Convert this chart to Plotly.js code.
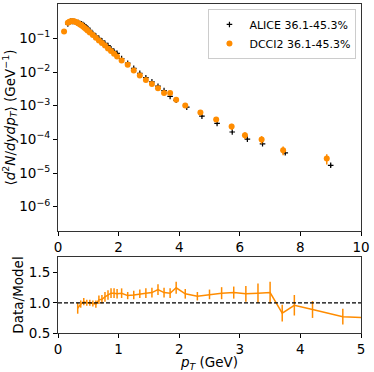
<!DOCTYPE html>
<html>
<head>
<meta charset="utf-8">
<script src="https://cdn.plot.ly/plotly-3.0.1.min.js"></script>
<style>
html, body { margin: 0; padding: 0; background: #fff; }
#plot { width: 374px; height: 372px; }
</style>
</head>
<body>
<div id="plot"></div>
<script>
// ALICE spectrum (black crosses)
const alicePt = [0.325, 0.375, 0.425, 0.475, 0.525, 0.575, 0.625, 0.675, 0.725, 0.775,
  0.825, 0.875, 0.925, 0.975, 1.05, 1.15, 1.25, 1.35, 1.45, 1.55, 1.65, 1.75, 1.85, 1.95,
  2.1, 2.3, 2.5, 2.7, 2.9, 3.1, 3.3, 3.5, 3.7, 3.9, 4.25, 4.75, 5.25, 5.75, 6.25, 6.75, 7.5, 9.0]
const aliceY = [0.27, 0.30, 0.325, 0.32, 0.32, 0.305, 0.29, 0.295, 0.275, 0.27,
  0.255, 0.24, 0.22, 0.198, 0.174, 0.14, 0.118, 0.1, 0.085, 0.071, 0.061, 0.049, 0.041, 0.036,
  0.025, 0.0183, 0.0128, 0.0092, 0.0068, 0.0051, 0.0038, 0.0028, 0.0019, 0.00145, 0.00091,
  0.00049, 0.00030, 0.000166, 0.000102, 7.4e-5, 4.0e-5, 1.7e-5]
const aliceErr = [0.01, 0.01, 0.01, 0.01, 0.01, 0.01, 0.01, 0.01, 0.01, 0.01,
  0.01, 0.01, 0.01, 0.008, 0.007, 0.006, 0.005, 0.004, 0.004, 0.003, 0.003, 0.002, 0.002, 0.002,
  0.0012, 0.0009, 0.0006, 0.0005, 0.0004, 0.0003, 0.0002, 0.00015, 0.0001, 0.00008, 0.00005,
  0.00003, 0.00002, 0.000012, 0.000008, 6e-6, 4e-6, 2e-6]

// DCCI2 model spectrum (orange dots)
const modelPt = [0.2, 0.325, 0.375, 0.425, 0.475, 0.525, 0.575, 0.625, 0.675, 0.725, 0.775,
  0.825, 0.875, 0.925, 0.975, 1.05, 1.15, 1.25, 1.35, 1.45, 1.55, 1.65, 1.75, 1.85, 1.95,
  2.1, 2.3, 2.5, 2.7, 2.9, 3.1, 3.3, 3.5, 3.7, 3.9, 4.2, 4.7, 5.22, 5.73, 6.17, 6.72, 7.43, 8.87]
const modelY = [0.16, 0.29, 0.31, 0.32, 0.32, 0.32, 0.31, 0.295, 0.28, 0.26, 0.245,
  0.225, 0.205, 0.19, 0.172, 0.15, 0.125, 0.104, 0.087, 0.073, 0.061, 0.05, 0.042, 0.035, 0.029,
  0.022, 0.0165, 0.0112, 0.0079, 0.0058, 0.0044, 0.0033, 0.0024, 0.0024, 0.0015, 0.00102,
  0.00063, 0.00039, 0.00024, 0.000133, 0.0001, 4.8e-5, 2.7e-5]
const modelErr = [0.004, 0.006, 0.006, 0.006, 0.006, 0.006, 0.006, 0.006, 0.006, 0.005, 0.005,
  0.005, 0.005, 0.004, 0.004, 0.004, 0.003, 0.003, 0.002, 0.002, 0.002, 0.0015, 0.0013, 0.0011, 0.001,
  0.0008, 0.0006, 0.0004, 0.0003, 0.0002, 0.0002, 0.00015, 0.00012, 0.00015, 0.0001, 0.00008,
  0.00007, 0.00006, 0.00005, 0.00003, 0.000025, 0.000014, 0.000009]

// Data/Model ratio
const ratioPt = [0.325, 0.375, 0.425, 0.475, 0.525, 0.575, 0.625, 0.675, 0.725, 0.775,
  0.825, 0.875, 0.925, 0.975, 1.05, 1.15, 1.25, 1.35, 1.45, 1.55, 1.65, 1.75, 1.85, 1.95,
  2.1, 2.3, 2.5, 2.7, 2.9, 3.1, 3.3, 3.5, 3.7, 3.9, 4.2, 4.7, 5.22]
const ratioY = [0.91, 0.98, 1.02, 1.0, 1.0, 0.99, 0.98, 1.05, 1.06, 1.1,
  1.13, 1.16, 1.16, 1.15, 1.16, 1.12, 1.13, 1.15, 1.16, 1.17, 1.22, 1.17, 1.16, 1.25,
  1.15, 1.11, 1.14, 1.16, 1.17, 1.15, 1.16, 1.17, 0.83, 0.96, 0.89, 0.77, 0.75]
const ratioErr = [0.09, 0.06, 0.06, 0.05, 0.05, 0.05, 0.06, 0.07, 0.07, 0.08,
  0.08, 0.08, 0.08, 0.08, 0.08, 0.06, 0.07, 0.07, 0.08, 0.08, 0.09, 0.08, 0.08, 0.1,
  0.08, 0.07, 0.08, 0.1, 0.1, 0.13, 0.16, 0.18, 0.14, 0.17, 0.14, 0.13, 0.13]

const orange = '#ff8c00'
const tickFont = {family: 'DejaVu Sans', size: 13.5, color: '#000'}
const titleFont = {family: 'DejaVu Sans', size: 13.5, color: '#000'}

const data = [
  {
    x: alicePt, y: aliceY, type: 'scatter', mode: 'markers', name: 'ALICE 36.1-45.3%',
    marker: {symbol: 'cross-thin', size: 4, color: '#000', line: {color: '#000', width: 1.2}},
    error_y: {type: 'data', array: aliceErr, color: '#000', thickness: 1, width: 0},
    xaxis: 'x', yaxis: 'y'
  },
  {
    x: modelPt, y: modelY, type: 'scatter', mode: 'markers', name: 'DCCI2 36.1-45.3%',
    marker: {symbol: 'circle', size: 6, color: orange},
    error_y: {type: 'data', array: modelErr, color: orange, thickness: 1.5, width: 0},
    xaxis: 'x', yaxis: 'y'
  },
  {
    x: ratioPt, y: ratioY, type: 'scatter', mode: 'lines', showlegend: false,
    line: {color: orange, width: 1.5},
    error_y: {type: 'data', array: ratioErr, color: orange, thickness: 1.5, width: 0},
    xaxis: 'x2', yaxis: 'y2'
  }
]

const axisBase = {
  showline: true, linecolor: '#333', linewidth: 1, mirror: true,
  ticks: 'outside', ticklen: 4, tickcolor: '#000', showgrid: false, zeroline: false,
  tickfont: tickFont, automargin: false
}

const layout = {
  width: 374, height: 372,
  margin: {l: 58, r: 13, t: 4, b: 39},
  paper_bgcolor: '#fff', plot_bgcolor: '#fff',
  font: {family: 'DejaVu Sans', color: '#000'},
  showlegend: true,
  legend: {
    x: 0.985, y: 0.985, xanchor: 'right', yanchor: 'top',
    bordercolor: '#ccc', borderwidth: 1, bgcolor: '#fff', itemwidth: 30,
    font: {family: 'DejaVu Sans', size: 11}, tracegroupgap: 0
  },
  xaxis: Object.assign({}, axisBase, {
    domain: [0, 1], range: [0, 10], tickvals: [0, 2, 4, 6, 8, 10], anchor: 'y'
  }),
  yaxis: Object.assign({}, axisBase, {
    domain: [0.31, 1], type: 'log', range: [-6.72, 0.02], anchor: 'x',
    tickvals: [1e-6, 1e-5, 1e-4, 1e-3, 1e-2, 1e-1],
    ticktext: ['10<sup>−6</sup>', '10<sup>−5</sup>', '10<sup>−4</sup>', '10<sup>−3</sup>', '10<sup>−2</sup>', '10<sup>−1</sup>'],
    title: {
      text: '⟨<i>d</i><sup>2</sup><i>N</i>/<i>dydp</i><sub><i>T</i></sub>⟩ (GeV<sup>−1</sup>)',
      font: titleFont, standoff: 4
    }
  }),
  xaxis2: Object.assign({}, axisBase, {
    domain: [0, 1], range: [0, 5], tickvals: [0, 1, 2, 3, 4, 5], anchor: 'y2',
    title: {text: '<i>p</i><sub><i>T</i></sub> (GeV)', font: titleFont, standoff: 1}
  }),
  yaxis2: Object.assign({}, axisBase, {
    domain: [0, 0.231], range: [0.5, 1.76], anchor: 'x2',
    tickvals: [0.5, 1.0, 1.5], ticktext: ['0.5', '1.0', '1.5'],
    title: {text: 'Data/Model', font: titleFont, standoff: 2}
  }),
  shapes: [{
    type: 'line', xref: 'x2', yref: 'y2', x0: 0, x1: 5, y0: 1, y1: 1,
    line: {color: '#000', width: 1.2, dash: '4px,2px'}
  }]
}

Plotly.newPlot('plot', data, layout, {displayModeBar: false, staticPlot: true})
</script>
</body>
</html>
